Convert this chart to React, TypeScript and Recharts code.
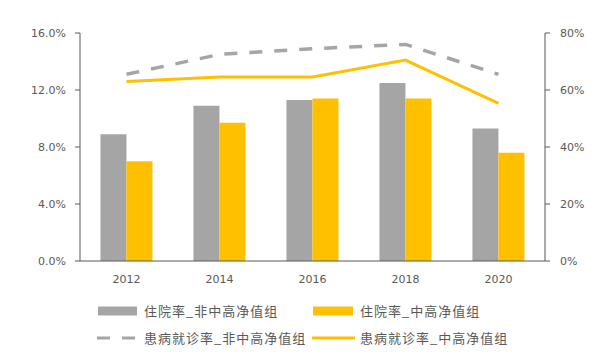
import React from 'react';
import { ComposedChart, Bar, Line, XAxis, YAxis, Legend } from 'recharts';

const categories = ['2012', '2014', '2016', '2018', '2020'];
const hospNonHNW = [8.9, 10.9, 11.3, 12.5, 9.3];
const hospHNW = [7.0, 9.7, 11.4, 11.4, 7.6];
const visitNonHNW = [65.5, 72.5, 74.5, 76.0, 65.5];
const visitHNW = [63.0, 64.6, 64.6, 70.5, 55.3];
const leftTicks = [0, 4, 8, 12, 16];
const rightTicks = [0, 20, 40, 60, 80];
const seriesNames = ['住院率_非中高净值组', '住院率_中高净值组', '患病就诊率_非中高净值组', '患病就诊率_中高净值组'];

const GRAY = '#A5A5A5';
const GOLD = '#FFC000';
const TEXT = '#595959';
const AXIS = '#595959';

const data = categories.map((c, i) => ({
  year: c,
  a: hospNonHNW[i],
  b: hospHNW[i],
  c: visitNonHNW[i],
  d: visitHNW[i],
}));

const legendText: React.CSSProperties = {
  fontFamily: '"Noto Sans CJK SC", sans-serif',
  fontSize: 13,
  letterSpacing: 1,
};

const LegendContent = () => (
  <svg width={611} height={56} style={{ display: 'block' }}>
    <rect x={98} y={10.5} width={39} height={9} fill={GRAY} />
    <text x={144} y={15} dy="0.36em" fill={TEXT} style={legendText}>{seriesNames[0]}</text>
    <rect x={313} y={10.5} width={40} height={9} fill={GOLD} />
    <text x={360} y={15} dy="0.36em" fill={TEXT} style={legendText}>{seriesNames[1]}</text>
    <line x1={97} x2={137} y1={42} y2={42} stroke={GRAY} strokeWidth={3} strokeDasharray="13 12" />
    <text x={144} y={42} dy="0.36em" fill={TEXT} style={legendText}>{seriesNames[2]}</text>
    <line x1={312} x2={355} y1={42} y2={42} stroke={GOLD} strokeWidth={3} />
    <text x={360} y={42} dy="0.36em" fill={TEXT} style={legendText}>{seriesNames[3]}</text>
  </svg>
);

const tickStyle = { fill: TEXT, fontSize: 11, fontFamily: '"DejaVu Sans", sans-serif' };

export default function App() {
  return (
    <div style={{ position: 'absolute', left: 0, top: 0, width: 611, height: 355, background: '#fff' }}>
      <ComposedChart
        width={611}
        height={355}
        data={data}
        margin={{ top: 33, right: 0, bottom: 64, left: 0 }}
        barGap={0}
        barCategoryGap="22%"
      >
        <XAxis
          dataKey="year"
          tickLine={false}
          axisLine={{ stroke: AXIS }}
          tick={tickStyle}
          tickSize={6}
          tickMargin={8}
          height={30}
          interval={0}
        />
        <YAxis
          yAxisId="left"
          orientation="left"
          width={80}
          domain={[0, 16]}
          ticks={leftTicks}
          tickFormatter={(v: number) => `${v.toFixed(1)}%`}
          tick={tickStyle}
          axisLine={{ stroke: AXIS }}
          tickLine={{ stroke: AXIS }}
          tickSize={5}
          tickMargin={9}
          interval={0}
        />
        <YAxis
          yAxisId="right"
          orientation="right"
          width={66}
          domain={[0, 80]}
          ticks={rightTicks}
          tickFormatter={(v: number) => `${v}%`}
          tick={tickStyle}
          axisLine={{ stroke: AXIS }}
          tickLine={{ stroke: AXIS }}
          tickSize={5}
          tickMargin={10}
          interval={0}
        />
        <Bar yAxisId="left" dataKey="a" name={seriesNames[0]} fill={GRAY} isAnimationActive={false} />
        <Bar yAxisId="left" dataKey="b" name={seriesNames[1]} fill={GOLD} isAnimationActive={false} />
        <Line
          yAxisId="right"
          dataKey="c"
          name={seriesNames[2]}
          stroke={GRAY}
          strokeWidth={3.5}
          strokeDasharray="13 12"
          dot={false}
          activeDot={false}
          type="linear"
          isAnimationActive={false}
        />
        <Line
          yAxisId="right"
          dataKey="d"
          name={seriesNames[3]}
          stroke={GOLD}
          strokeWidth={3}
          dot={false}
          activeDot={false}
          type="linear"
          isAnimationActive={false}
        />
        <Legend
          layout="vertical"
          align="center"
          verticalAlign="middle"
          content={<LegendContent />}
          wrapperStyle={{ left: 0, top: 296, width: 611, height: 56 }}
        />
      </ComposedChart>
    </div>
  );
}
